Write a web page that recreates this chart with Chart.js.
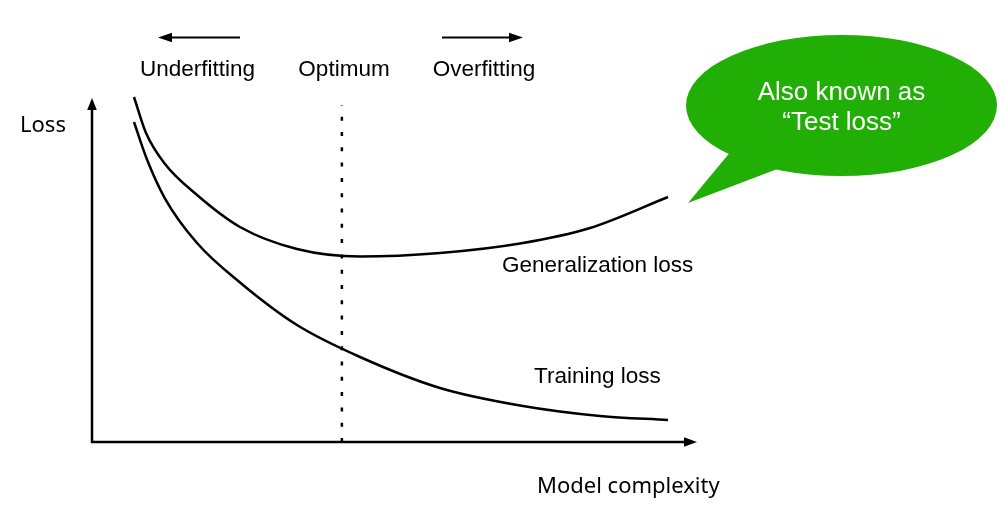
<!DOCTYPE html>
<html>
<head>
<meta charset="utf-8">
<style>
  html, body { margin: 0; padding: 0; background: #ffffff; }
  #wrap { width: 1000px; height: 507px; }
</style>
<script src="https://cdn.jsdelivr.net/npm/chart.js@4/dist/chart.umd.min.js"></script>
</head>
<body>
<div id="wrap"><canvas id="c" width="1000" height="507"></canvas></div>
<script>
// ---- data (model complexity 0..100, loss 0..100) ----
const genComplexity = [6.94, 8.93, 12.07, 17.36, 24.46, 33.88, 44.30, 57.52, 70.74, 82.31, 95.21];
const genLoss       = [100.29, 89.83, 80.81, 71.80, 62.50, 56.10, 53.92, 54.94, 57.70, 62.21, 71.22];
const trainComplexity = [6.94, 9.09, 12.07, 17.36, 24.46, 33.88, 44.30, 57.52, 70.74, 83.97, 95.21];
const trainLoss       = [93.02, 82.12, 70.78, 57.85, 46.37, 34.01, 24.71, 15.70, 10.61, 7.56, 6.40];
const optimumComplexity = 41.3;
const optimumLine = [0, 98];
const topLabels = ['Underfitting', 'Optimum', 'Overfitting'];
const axisLabels = { y: 'Loss', x: 'Model complexity' };
const curveLabels = ['Generalization loss', 'Training loss'];
const bubbleLines = ['Also known as', '\u201CTest loss\u201D'];

const toPts = (xs, ys) => xs.map((x, i) => ({ x: x, y: ys[i] }));

const SANS = '"Liberation Sans", Arial, Helvetica, sans-serif';
const ALT = '"Noto Sans", "Liberation Sans", sans-serif';

function arrowHead(ctx, tipX, tipY, dx, dy, len, half) {
  const bx = tipX - dx * len, by = tipY - dy * len;
  const px = -dy, py = dx;
  ctx.beginPath();
  ctx.moveTo(tipX, tipY);
  ctx.lineTo(bx + px * half, by + py * half);
  ctx.lineTo(bx - px * half, by - py * half);
  ctx.closePath();
  ctx.fill();
}

const decor = {
  id: 'decor',
  beforeDatasetsDraw(chart) {
    const ctx = chart.ctx;
    const xs = chart.scales.x, ys = chart.scales.y;
    const x0 = xs.getPixelForValue(0), y0 = ys.getPixelForValue(0);
    const xEnd = xs.getPixelForValue(100), yEnd = ys.getPixelForValue(100);
    ctx.save();
    ctx.strokeStyle = '#000';
    ctx.fillStyle = '#000';
    ctx.lineWidth = 2.5;
    ctx.lineCap = 'butt';
    ctx.beginPath();
    ctx.moveTo(x0, y0); ctx.lineTo(xEnd - 8, y0);
    ctx.moveTo(x0, y0 + 1.2); ctx.lineTo(x0, yEnd + 8);
    ctx.stroke();
    arrowHead(ctx, xEnd, y0, 1, 0, 13, 4.8);
    arrowHead(ctx, x0, yEnd, 0, -1, 12, 4.8);
    ctx.lineWidth = 2.2;
    ctx.beginPath();
    ctx.moveTo(240, 37.5); ctx.lineTo(166, 37.5);
    ctx.moveTo(442, 37.5); ctx.lineTo(515, 37.5);
    ctx.stroke();
    arrowHead(ctx, 158, 37.5, -1, 0, 14, 4.8);
    arrowHead(ctx, 523, 37.5, 1, 0, 14, 4.8);
    ctx.restore();
  },
  afterDraw(chart) {
    const ctx = chart.ctx;
    ctx.save();
    ctx.fillStyle = '#000';
    ctx.textBaseline = 'alphabetic';
    ctx.font = '22.5px ' + SANS;
    ctx.textAlign = 'center';
    ctx.fillText(topLabels[0], 197.5, 76);
    ctx.fillText(topLabels[1], 344, 76);
    ctx.fillText(topLabels[2], 484, 76);
    ctx.textAlign = 'left';
    ctx.fillText(curveLabels[0], 502, 272);
    ctx.fillText(curveLabels[1], 534, 383);
    ctx.font = '22px ' + ALT;
    ctx.fillText(axisLabels.y, 20, 132);
    ctx.fillText(axisLabels.x, 537, 493);
    // speech bubble
    ctx.fillStyle = '#21ae05';
    ctx.beginPath();
    ctx.ellipse(841.5, 105.5, 155.5, 70.5, 0, 0, Math.PI * 2);
    ctx.fill();
    ctx.beginPath();
    ctx.moveTo(732, 150);
    ctx.lineTo(688, 203);
    ctx.lineTo(780, 168);
    ctx.closePath();
    ctx.fill();
    ctx.fillStyle = '#ffffff';
    ctx.font = '26px ' + SANS;
    ctx.textAlign = 'center';
    ctx.fillText(bubbleLines[0], 841.5, 100);
    ctx.fillText(bubbleLines[1], 841.5, 130);
    ctx.restore();
  }
};

const lineStyle = {
  showLine: true,
  borderColor: '#000000',
  backgroundColor: '#000000',
  borderWidth: 2.5,
  pointRadius: 0,
  pointHoverRadius: 0,
  fill: false,
  clip: false
};

new Chart(document.getElementById('c'), {
  type: 'scatter',
  data: {
    datasets: [
      Object.assign({ label: curveLabels[0], data: toPts(genComplexity, genLoss), cubicInterpolationMode: 'monotone' }, lineStyle),
      Object.assign({ label: curveLabels[1], data: toPts(trainComplexity, trainLoss), cubicInterpolationMode: 'monotone' }, lineStyle),
      Object.assign({ label: topLabels[1], data: toPts([optimumComplexity, optimumComplexity], optimumLine), borderDash: [4, 11.3], borderCapStyle: 'butt', tension: 0 }, lineStyle)
    ]
  },
  options: {
    responsive: false,
    animation: false,
    devicePixelRatio: 1,
    layout: { padding: { left: 92, right: 303, top: 98, bottom: 65 } },
    plugins: { legend: { display: false }, tooltip: { enabled: false }, title: { display: false } },
    events: [],
    scales: {
      x: { type: 'linear', min: 0, max: 100, display: false },
      y: { type: 'linear', min: 0, max: 100, display: false }
    }
  },
  plugins: [decor]
});
</script>
</body>
</html>
